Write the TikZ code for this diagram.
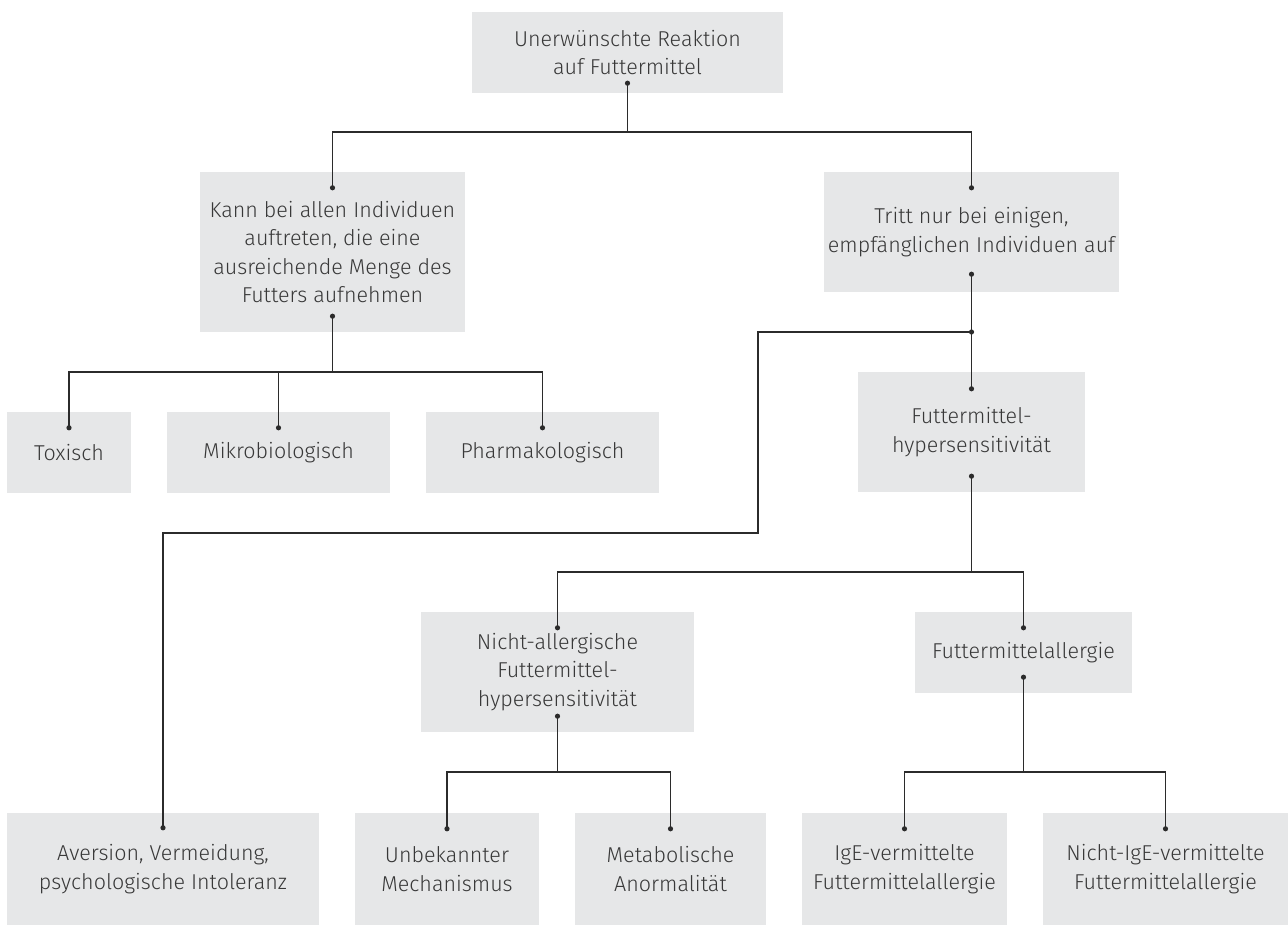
\documentclass[tikz,border=0pt]{standalone}
\usepackage{fontspec}
\setmainfont{Fira Sans Light}
\usetikzlibrary{calc}
\definecolor{boxgray}{HTML}{E6E7E8}
\definecolor{txt}{HTML}{383838}
\definecolor{ln}{HTML}{2B2B2B}
\begin{document}
\begin{tikzpicture}[x=1pt,y=-1pt,
  box/.style={fill=boxgray, text=txt, align=center, font=\fontsize{21.5}{28.3}\selectfont, inner sep=0pt, anchor=center},
  conn/.style={draw=ln, line width=1.4pt}]
\useasboundingbox (0,0) rectangle (1288,925);
% boxes
\node[box, minimum width=311pt, minimum height=81pt] (top) at (627.5,52.5) {Unerwünschte Reaktion\\auf Futtermittel};
\node[box, minimum width=265pt, minimum height=160pt] (kann) at (332.5,252) {Kann bei allen Individuen\\auftreten, die eine\\ausreichende Menge des\\Futters aufnehmen};
\node[box, minimum width=295pt, minimum height=120pt] (tritt) at (971.5,232) {Tritt nur bei einigen,\\empfänglichen Individuen auf};
\node[box, minimum width=124pt, minimum height=81pt] (tox) at (69,452.5) {Toxisch};
\node[box, minimum width=223pt, minimum height=81pt] (mikro) at (278.5,452.5) {Mikrobiologisch};
\node[box, minimum width=233pt, minimum height=81pt] (pharm) at (542.5,452.5) {Pharmakologisch};
\node[box, minimum width=227pt, minimum height=120pt] (hyp) at (971.5,432) {Futtermittel-\\hypersensitivität};
\node[box, minimum width=273pt, minimum height=120pt] (nall) at (557.5,672) {Nicht-allergische\\Futtermittel-\\hypersensitivität};
\node[box, minimum width=217pt, minimum height=81pt] (fall) at (1023.5,652.5) {Futtermittelallergie};
\node[box, minimum width=312pt, minimum height=112pt] (aver) at (163,869) {Aversion, Vermeidung,\\psychologische Intoleranz};
\node[box, minimum width=184pt, minimum height=112pt] (unb) at (447,869) {Unbekannter\\Mechanismus};
\node[box, minimum width=191pt, minimum height=112pt] (meta) at (670.5,869) {Metabolische\\Anormalität};
\node[box, minimum width=205pt, minimum height=112pt] (ige) at (904.5,869) {IgE-vermittelte\\Futtermittelallergie};
\node[box, minimum width=245pt, minimum height=112pt] (nige) at (1165.5,869) {Nicht-IgE-vermittelte\\Futtermittelallergie};
% connector end points
\coordinate (top-b) at ($(top.south)+(0,-10)$);
\coordinate (kann-t) at ($(kann.north)+(0,16)$);
\coordinate (kann-b) at ($(kann.south)+(0,-16)$);
\coordinate (tritt-t) at ($(tritt.north)+(0,16)$);
\coordinate (tritt-b) at ($(tritt.south)+(0,-18)$);
\coordinate (tox-t) at ($(tox.north)+(0,16)$);
\coordinate (mikro-t) at ($(mikro.north)+(0,16)$);
\coordinate (pharm-t) at ($(pharm.north)+(0,16)$);
\coordinate (hyp-t) at ($(hyp.north)+(0,17)$);
\coordinate (hyp-b) at ($(hyp.south)+(0,-16)$);
\coordinate (nall-t) at ($(nall.north)+(0,16)$);
\coordinate (nall-b) at ($(nall.south)+(0,-16)$);
\coordinate (fall-t) at ($(fall.north)+(0,16)$);
\coordinate (fall-b) at ($(fall.south)+(0,-16)$);
\coordinate (aver-t) at ($(aver.north)+(0,15)$);
\coordinate (unb-t) at ($(unb.north)+(0,16)$);
\coordinate (meta-t) at ($(meta.north)+(0,16)$);
\coordinate (ige-t) at ($(ige.north)+(0,16)$);
\coordinate (nige-t) at ($(nige.north)+(0,16)$);
% junctions
\coordinate (j1) at (top-b |- 0,132);
\coordinate (j2) at (kann-b |- 0,372);
\coordinate (j3) at (tritt-b |- 0,332);
\coordinate (k1) at (758,332);
\coordinate (k2) at (758,533);
\coordinate (j4) at (hyp-b |- 0,572);
\coordinate (j5) at (nall-b |- 0,772);
\coordinate (j6) at (fall-b |- 0,772);
% connectors
\draw[conn] (top-b) -- (j1) -| (kann-t);
\draw[conn] (j1) -| (tritt-t);
\draw[conn] (kann-b) -- (j2) -| (tox-t);
\draw[conn] (j2) -| (mikro-t);
\draw[conn] (j2) -| (pharm-t);
\draw[conn] (tritt-b) -- (hyp-t);
\draw[conn] (j3) -- (k1) -- (k2) -| (aver-t);
\draw[conn] (hyp-b) -- (j4) -| (nall-t);
\draw[conn] (j4) -| (fall-t);
\draw[conn] (nall-b) -- (j5) -| (unb-t);
\draw[conn] (j5) -| (meta-t);
\draw[conn] (fall-b) -- (j6) -| (ige-t);
\draw[conn] (j6) -| (nige-t);
% dots
\foreach \p in {top-b,kann-t,kann-b,tritt-t,tritt-b,tox-t,mikro-t,pharm-t,hyp-t,hyp-b,nall-t,nall-b,fall-t,fall-b,aver-t,unb-t,meta-t,ige-t,nige-t,j3}
  \fill[ln] (\p) circle (2.6pt);
\end{tikzpicture}
\end{document}
